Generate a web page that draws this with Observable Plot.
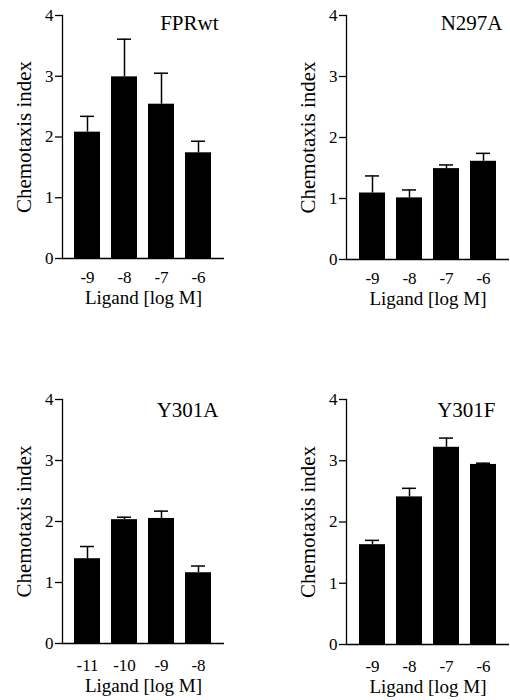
<!DOCTYPE html>
<html><head><meta charset="utf-8">
<script src="https://cdn.jsdelivr.net/npm/d3@7"></script>
<script src="https://cdn.jsdelivr.net/npm/@observablehq/plot@0.6"></script>
<style>
body{margin:0;background:#fff;}
#wrap{position:relative;width:510px;height:700px;overflow:hidden;background:#fff;}
.panel{position:absolute;}
</style></head><body><div id="wrap"></div>
<script>
// ---- data ----
const panelNames = ["FPRwt", "N297A", "Y301A", "Y301F"];
const ligandStd = ["-9", "-8", "-7", "-6"];
const ligandY301A = ["-11", "-10", "-9", "-8"];
const fprwtMean = [2.08, 2.99, 2.54, 1.74];
const fprwtErr  = [0.26, 0.62, 0.51, 0.19];
const n297aMean = [1.09, 1.01, 1.49, 1.61];
const n297aErr  = [0.28, 0.13, 0.06, 0.13];
const y301aMean = [1.39, 2.03, 2.05, 1.16];
const y301aErr  = [0.20, 0.04, 0.12, 0.11];
const y301fMean = [1.63, 2.41, 3.22, 2.94];
const y301fErr  = [0.07, 0.14, 0.15, 0.02];
const yTicks = [0, 1, 2, 3, 4];
const xLabel = "Ligand [log M]";
const yLabel = "Chemotaxis index";

// ---- layout ----
const panels = [
  {name: panelNames[0], cats: ligandStd,   mean: fprwtMean, err: fprwtErr, left: 0,   top: 0,   width: 255, height: 320, mt: 15, mb: 62, ml: 62, mr: 31, tickPad: 12, xlabDy: 39, titleDx: -6,  titleDy: 8},
  {name: panelNames[1], cats: ligandStd,   mean: n297aMean, err: n297aErr, left: 255, top: 0,   width: 255, height: 320, mt: 15, mb: 61, ml: 91, mr: 1,  tickPad: 12, xlabDy: 39, titleDx: -7,  titleDy: 8},
  {name: panelNames[2], cats: ligandY301A, mean: y301aMean, err: y301aErr, left: 0,   top: 360, width: 255, height: 340, mt: 39, mb: 57, ml: 62, mr: 31, tickPad: 15, xlabDy: 42, titleDx: -6,  titleDy: 11},
  {name: panelNames[3], cats: ligandStd,   mean: y301fMean, err: y301fErr, left: 255, top: 360, width: 255, height: 340, mt: 39, mb: 56, ml: 91, mr: 1,  tickPad: 15, xlabDy: 42, titleDx: -14, titleDy: 11}
];

const wrap = document.getElementById("wrap");
const font = "Liberation Serif";

for (const p of panels) {
  const rows = p.cats.map((c, i) => ({x: c, mean: p.mean[i], hi: p.mean[i] + p.err[i]}));
  const chart = Plot.plot({
    width: p.width,
    height: p.height,
    marginTop: p.mt,
    marginBottom: p.mb,
    marginLeft: p.ml,
    marginRight: p.mr,
    style: {fontFamily: font, fontSize: "16px", color: "#000", background: "#fff", overflow: "visible"},
    x: {domain: p.cats, paddingInner: 0.29, paddingOuter: 0.32},
    y: {domain: [0, 4]},
    marks: [
      Plot.barY(rows, {x: "x", y: "mean", fill: "#000"}),
      Plot.ruleX(rows, {x: "x", y1: "mean", y2: "hi", stroke: "#000", strokeWidth: 1.5}),
      Plot.tickY(rows, {x: "x", y: "hi", stroke: "#000", strokeWidth: 1.5, insetLeft: 6, insetRight: 6}),
      Plot.ruleY([0], {stroke: "#000", strokeWidth: 1.3}),
      Plot.frame({anchor: "left", stroke: "#000", strokeWidth: 1.3}),
      Plot.axisY({ticks: yTicks, tickSize: 7, tickPadding: 2, label: null, strokeWidth: 1.3, fontFamily: font, fontSize: 17, tickFormat: d => String(d)}),
      Plot.axisX({tickSize: 0, tickPadding: p.tickPad, label: null, fontFamily: font, fontSize: 17}),
      Plot.text([yLabel], {frameAnchor: "left", textAnchor: "middle", rotate: -90, dx: -38, lineAnchor: "middle", fontFamily: font, fontSize: 21, fill: "#000"}),
      Plot.text([xLabel], {frameAnchor: "bottom", textAnchor: "middle", dy: p.xlabDy, lineAnchor: "middle", fontFamily: font, fontSize: 19, fill: "#000"}),
      Plot.text([p.name], {frameAnchor: "top-right", textAnchor: "end", dx: p.titleDx, dy: p.titleDy, lineAnchor: "middle", fontFamily: font, fontSize: 21, fill: "#000"})
    ]
  });
  const div = document.createElement("div");
  div.className = "panel";
  div.style.left = p.left + "px";
  div.style.top = p.top + "px";
  div.appendChild(chart);
  wrap.appendChild(div);
}
</script>
</body></html>
